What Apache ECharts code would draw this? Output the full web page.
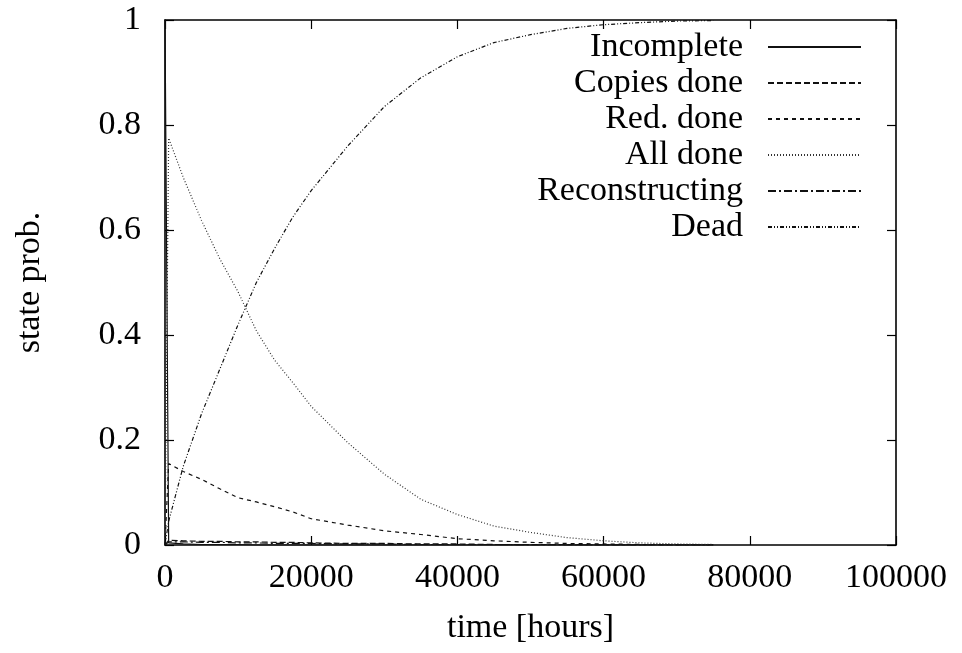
<!DOCTYPE html>
<html>
<head>
<meta charset="utf-8">
<script src="https://cdn.jsdelivr.net/npm/echarts@6/dist/echarts.min.js"></script>
<style>
html,body{margin:0;padding:0;background:#fff;}
#chart{width:962px;height:653px;}
</style>
</head>
<body>
<div id="chart"></div>
<script>
const times = [0, 500, 2500, 5000, 7500, 10000, 12500, 15000, 17500, 20000, 25000, 30000, 35000, 40000, 45000, 50000, 55000, 60000, 65000, 70000, 75000];
const incomplete = [1, 0.004, 0.002, 0.001, 0.001, 0.001, 0, 0, 0, 0, 0, 0, 0, 0, 0, 0, 0, 0, 0, 0, 0];
const copiesDone = [0, 0.009, 0.008, 0.007, 0.007, 0.006, 0.006, 0.005, 0.005, 0.004, 0.003, 0.003, 0.002, 0.002, 0.001, 0.001, 0.001, 0, 0, 0, 0];
const redDone = [0, 0.155, 0.14, 0.125, 0.107, 0.09, 0.082, 0.073, 0.063, 0.05, 0.038, 0.027, 0.02, 0.012, 0.008, 0.005, 0.003, 0.002, 0.001, 0.0005, 0];
const allDone = [0, 0.775, 0.70, 0.618, 0.545, 0.482, 0.408, 0.352, 0.309, 0.264, 0.195, 0.135, 0.087, 0.058, 0.036, 0.024, 0.014, 0.008, 0.004, 0.002, 0.001];
const reconstructing = [0, 0.006, 0.006, 0.005, 0.005, 0.004, 0.004, 0.003, 0.003, 0.003, 0.002, 0.002, 0.001, 0.001, 0.001, 0, 0, 0, 0, 0, 0];
const dead = [0, 0.045, 0.15, 0.25, 0.335, 0.42, 0.50, 0.565, 0.625, 0.675, 0.76, 0.835, 0.89, 0.93, 0.957, 0.972, 0.984, 0.991, 0.995, 0.998, 0.999];

const seriesNames = ['Incomplete', 'Copies done', 'Red. done', 'All done', 'Reconstructing', 'Dead'];
const seriesValues = [incomplete, copiesDone, redDone, allDone, reconstructing, dead];
const xTickLabels = ['0', '20000', '40000', '60000', '80000', '100000'];
const yTickLabels = ['0', '0.2', '0.4', '0.6', '0.8', '1'];
const xTitle = 'time [hours]';
const yTitle = 'state prob.';

const FONT = 'Liberation Serif';
const FS = 34;
const dashes = ['solid', [6, 3], [4, 4], [1, 2], [8, 3, 2, 3], [4, 2, 1, 2, 1, 2]];

const chart = echarts.init(document.getElementById('chart'), null, {renderer: 'canvas'});

function xLabel(v) { const i = Math.round(v / 20000); return xTickLabels[i] !== undefined ? xTickLabels[i] : ''; }
function yLabel(v) { const i = Math.round(v / 0.2); return yTickLabels[i] !== undefined ? yTickLabels[i] : ''; }

const axisLine = {show: true, onZero: false, lineStyle: {color: '#000', width: 1.6}};
const axisTick = {show: true, inside: true, length: 9, lineStyle: {color: '#000', width: 1.2}};

const option = {
  backgroundColor: '#fff',
  animation: false,
  grid: {left: 165, right: 66, top: 20, bottom: 108, containLabel: false},
  legend: {
    orient: 'vertical',
    align: 'right',
    right: 95,
    top: 25,
    itemWidth: 93,
    itemHeight: 14,
    itemGap: 2,
    itemStyle: {opacity: 0},
    textStyle: {fontFamily: FONT, fontSize: FS, color: '#000', lineHeight: 33, padding: [0, 20, 0, 0]},
    data: seriesNames
  },
  xAxis: [{
    type: 'value', min: 0, max: 100000, interval: 20000,
    name: xTitle, nameLocation: 'middle', nameGap: 66,
    nameTextStyle: {fontFamily: FONT, fontSize: FS, color: '#000'},
    axisLine: axisLine, axisTick: axisTick, splitLine: {show: false},
    axisLabel: {fontFamily: FONT, fontSize: FS, color: '#000', margin: 16, formatter: xLabel, showMaxLabel: true, showMinLabel: true}
  }, {
    type: 'value', min: 0, max: 100000, interval: 20000, position: 'top',
    axisLine: axisLine, axisTick: axisTick, splitLine: {show: false}, axisLabel: {show: false}
  }],
  yAxis: [{
    type: 'value', min: 0, max: 1, interval: 0.2,
    name: yTitle, nameLocation: 'middle', nameGap: 118, nameRotate: 90,
    nameTextStyle: {fontFamily: FONT, fontSize: FS, color: '#000'},
    axisLine: axisLine, axisTick: axisTick, splitLine: {show: false},
    axisLabel: {fontFamily: FONT, fontSize: FS, color: '#000', margin: 24, formatter: yLabel}
  }, {
    type: 'value', min: 0, max: 1, interval: 0.2, position: 'right',
    axisLine: axisLine, axisTick: axisTick, splitLine: {show: false}, axisLabel: {show: false}
  }],
  series: seriesNames.map(function (name, k) {
    return {
      name: name,
      type: 'line',
      xAxisIndex: 0, yAxisIndex: 0,
      symbol: 'none',
      showSymbol: false,
      color: '#000',
      lineStyle: {color: k === 3 ? '#333' : '#111', width: 1.2, type: dashes[k]},
      data: times.map(function (t, i) { return [t, seriesValues[k][i]]; })
    };
  })
};
chart.setOption(option);
</script>
</body>
</html>
